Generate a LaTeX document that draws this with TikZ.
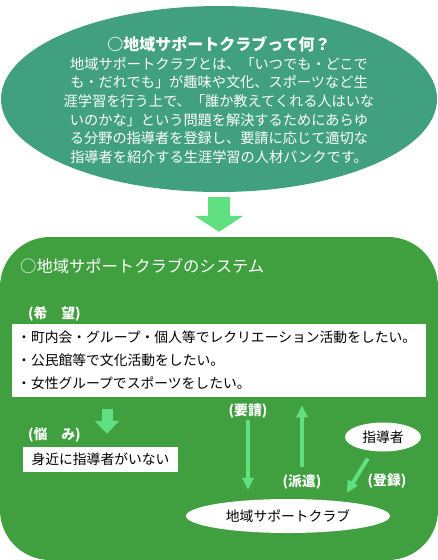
\documentclass[tikz,border=0pt]{standalone}
\usepackage{fontspec}
\setmainfont{Noto Sans CJK JP}
\usepackage{tikz}
\usetikzlibrary{arrows.meta,shapes.geometric,calc}
\definecolor{whatgreen}{HTML}{40A080}
\definecolor{sysgreen}{HTML}{40A040}
\definecolor{arrowgreen}{HTML}{60E080}
\newcommand{\jsize}{\fontsize{13.8pt}{18.6pt}\selectfont}

\begin{document}
\begin{tikzpicture}[x=1pt,y=-1pt,
    every node/.style={inner sep=0pt,font=\jsize},
    tag/.style={text=white,font=\jsize\bfseries},
    thinarrow/.style={arrowgreen,line width=4pt,-{Triangle[width=11pt,length=12pt]}}]
    \useasboundingbox (0,0) rectangle (438,560);
    \node[fill=sysgreen,rounded corners=50pt,minimum width=438pt,minimum height=323pt] (sys) at (219,398.5) {};
    \node[ellipse,fill=whatgreen,minimum width=436pt,minimum height=186pt] (what) at (219,99) {};
    \node[text=white,align=center,font=\fontsize{14.2pt}{18.6pt}\selectfont] (whattext) at (219,100) {{\fontsize{16pt}{18.6pt}\selectfont\bfseries ○地域サポートクラブって何？}\\
      地域サポートクラブとは、「いつでも・どこで\\
      も・だれでも」が趣味や文化、スポーツなど生\\
      涯学習を行う上で、「誰か教えてくれる人はいな\\
      いのかな」という問題を解決するためにあらゆ\\
      る分野の指導者を登録し、要請に応じて適切な\\
      指導者を紹介する生涯学習の人材バンクです。};

    \node[text=white,anchor=west,font=\fontsize{16.3pt}{18pt}\selectfont] (systitle) at (20,266) {○地域サポートクラブのシステム};

    \node[tag,anchor=west] (wishtag) at (28,314) {(希　望)};
    \node[fill=white,anchor=north west,minimum width=414pt,minimum height=73pt,
          text width=404pt,inner xsep=5pt,align=left,font=\fontsize{13.8pt}{23pt}\selectfont] (wish) at (12,324)
      {・町内会・グループ・個人等でレクリエーション活動をしたい。\\
       ・公民館等で文化活動をしたい。\\
       ・女性グループでスポーツをしたい。};

    \node[tag,anchor=west] (troubletag) at (28,435) {(悩　み)};
    \node[fill=white,minimum width=155pt,minimum height=25pt] (trouble) at (100.5,459.5) {身近に指導者がいない};

    \node[ellipse,fill=white,minimum width=76pt,minimum height=29pt] (instr) at (383,437) {指導者};
    \node[ellipse,fill=white,minimum width=204pt,minimum height=34pt] (club) at (288,516) {地域サポートクラブ};

    \node[tag] (req) at (248,411) {(要請)};
    \node[tag] (disp) at (302,482) {(派遣)};
    \node[tag] (reg) at (387,481) {(登録)};

    % arrows
    \draw [-{Triangle[width=48pt,length=16pt]}][arrowgreen,line width=22pt,shorten <=5pt,shorten >=5pt] (what.south) -- (sys.north);
    \draw [-{Triangle[width=24pt,length=13pt]}][arrowgreen,line width=11pt,shorten <=12pt,shorten >=13pt]
      ($(wish.south -| trouble.north)+(6.5,0)$) -- ($(trouble.north)+(6.5,0)$);
    \draw [thinarrow,shorten <=1pt,shorten >=9pt] (req.south) -- (club.north -| req.south);
    \draw [thinarrow,shorten <=7pt,shorten >=8pt] (disp.north) -- (wish.south -| disp.north);
    \draw [thinarrow,shorten <=8pt,shorten >=7pt] ([xshift=-11pt]instr.south) -- ([xshift=55pt]club.north);
\end{tikzpicture}
\end{document}
